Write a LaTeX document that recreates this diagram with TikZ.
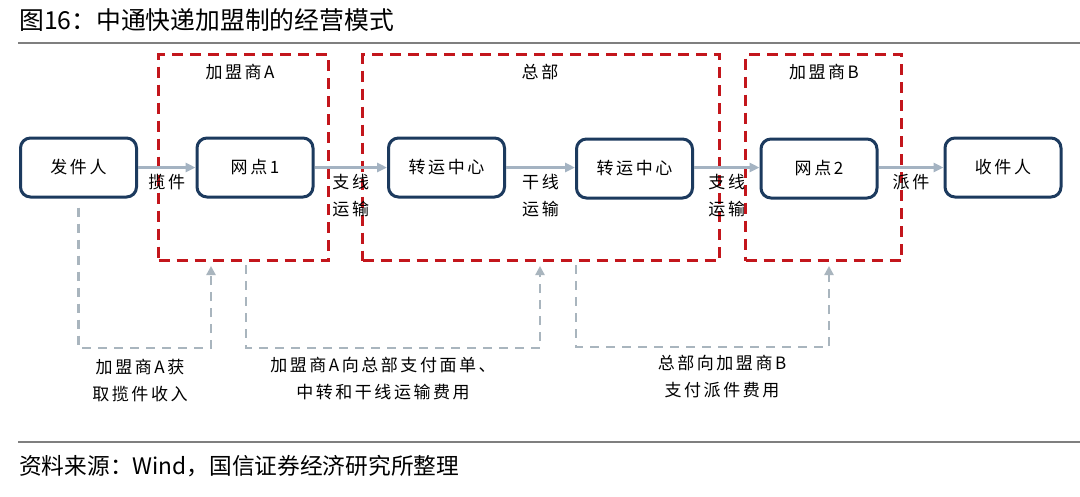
\documentclass[tikz,border=0pt]{standalone}
\usepackage{fontspec}
\setmainfont{Noto Sans CJK SC}
\newfontfamily\dfont[LetterSpace=15]{Noto Sans CJK SC}
\usetikzlibrary{arrows.meta}
\definecolor{navy}{HTML}{1C3A5E}
\definecolor{arrowc}{HTML}{A4B3C2}
\definecolor{redd}{HTML}{C3161C}
\definecolor{fbc}{HTML}{A9B5BE}
\definecolor{rulec}{HTML}{7F7F7F}
\begin{document}
\begin{tikzpicture}[x=1pt,y=-1pt,
 box/.style={draw=navy,line width=3pt,rounded corners=10pt,minimum width=116pt,minimum height=59pt,inner sep=0pt,font=\dfont\fontsize{17}{20}\selectfont,fill=white},
 grp/.style={draw=redd,line width=3pt,dash pattern=on 11pt off 7pt,inner sep=0pt},
 flow/.style={draw=arrowc,line width=2.5pt,-{Triangle[length=10pt,width=9pt]}},
 fb/.style={draw=fbc,line width=2.5pt,dash pattern=on 9pt off 7pt},
 fbarrow/.style={fb,-{Triangle[length=9pt,width=9pt]}},
 lbl/.style={font=\dfont\fontsize{17}{27}\selectfont,align=center,inner sep=0pt}]
\fill[white] (0,0) rectangle (1080,496);
\path[use as bounding box] (0,0) rectangle (1080,496);

% title and rules
\node[anchor=west,font=\fontsize{24.8}{28}\selectfont,inner sep=0pt] (title) at (19,20) {图16：中通快递加盟制的经营模式};
\draw[rulec,line width=1.5pt] (18,43) -- (1080,43);
\draw[rulec,line width=1.5pt] (18,442) -- (1080,442);
\node[anchor=west,font=\fontsize{22.7}{26}\selectfont,inner sep=0pt] (src) at (19,466) {资料来源：Wind，国信证券经济研究所整理};

% groups
\node[grp,minimum width=170pt,minimum height=206pt] (gA) at (243.5,157.5) {};
\node[grp,minimum width=357pt,minimum height=206pt] (gH) at (541,157.5) {};
\node[grp,minimum width=156pt,minimum height=206pt] (gB) at (823.5,157.5) {};
\node[lbl] (tA) at (240,72) {加盟商A};
\node[lbl] (tH) at (540,72) {总部};
\node[lbl] (tB) at (824,72) {加盟商B};

% boxes
\node[box] (fa) at (78.5,167.5) {发件人};
\node[box] (wd1) at (255,167.5) {网点1};
\node[box] (zz1) at (446.5,167.5) {转运中心};
\node[box] (zz2) at (634.5,168.5) {转运中心};
\node[box] (wd2) at (819,168.5) {网点2};
\node[box] (sj) at (1003,167.5) {收件人};

% flows
\draw[flow] (fa.east) -- node[lbl,below=5pt] {揽件} (wd1.west);
\draw[flow] (wd1.east) -- node[lbl,below=5pt] {支线\\运输} (wd1.east -| zz1.west);
\draw[flow] (zz1.east) -- node[lbl,below=5pt] {干线\\运输} (zz1.east -| zz2.west);
\draw[flow] (zz2.east |- 0,167.5) -- node[lbl,below=5pt] {支线\\运输} (wd2.west |- 0,167.5);
\draw[flow] (wd2.east |- 0,167.5) -- node[lbl,below=5pt] {派件} (sj.west);

% feedback
\coordinate (e1) at (211,266);
\coordinate (s2) at (246,265);
\coordinate (e2) at (540,266);
\coordinate (s3) at (576,265);
\coordinate (e3) at (829,266);
\draw[fbarrow] ([yshift=-9pt]fa.south) -- (78.5,348) -- (211,348) -- (e1);
\draw[fbarrow] (s2) -- (246,348) -- (540,348) -- (e2);
\draw[fbarrow] (s3) -- (576,347) -- (829,347) -- (e3);

\node[lbl] (n1) at (140,381) {加盟商A获\\取揽件收入};
\node[lbl] (n2) at (383,378.5) {加盟商A向总部支付面单、\\中转和干线运输费用};
\node[lbl] (n3) at (722,376.5) {总部向加盟商B\\支付派件费用};
\end{tikzpicture}
\end{document}
